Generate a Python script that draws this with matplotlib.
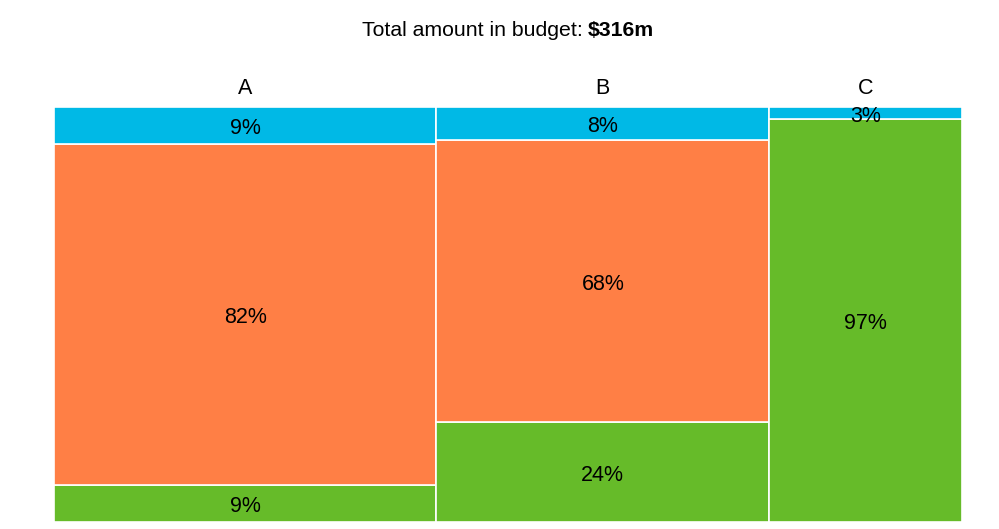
import matplotlib.pyplot as plt

plt.rcParams['font.family'] = ['Liberation Sans', 'DejaVu Sans']

# budget per group ($m) and share of each segment (%)
groups = ['A', 'B', 'C']
totals = [133, 116, 67]
top_share = [9, 8, 3]
mid_share = [82, 68, 0]
bottom_share = [9, 24, 97]
colors = ['#00B9E6', '#FF7F45', '#66BB29']

fig = plt.figure(figsize=(9.99, 5.29), dpi=100)
ax = fig.add_axes([54/999, 7/529, 908/999, 415/529])

grand = sum(totals)
left = 0
for i, g in enumerate(groups):
    w = totals[i] / grand
    shares = [bottom_share[i], mid_share[i], top_share[i]]
    cols = [colors[2], colors[1], colors[0]]
    bottom = 0
    for s, c in zip(shares, cols):
        if s == 0:
            continue
        h = s / 100
        ax.text(left + w/2, bottom + h/2 - 0.007, f'{s}%', ha='center',
                va='center', fontsize=15.5)
        ax.bar(left, h, width=w, bottom=bottom, align='edge', color=c,
               edgecolor='white', linewidth=1.2)
        bottom += h
    ax.text(left + w/2, 1.045, g, ha='center', va='center', fontsize=15.5)
    left += w

ax.set_xlim(0, 1)
ax.set_ylim(0, 1)
ax.axis('off')

fig.text(583/999, 1 - 30/529, 'Total amount in budget:', ha='right', va='center',
         fontsize=15.3)
fig.text(588/999, 1 - 30/529, f'${grand}m', ha='left', va='center',
         fontsize=15.3, fontweight='bold')

fig.savefig('out.png', dpi=100)
